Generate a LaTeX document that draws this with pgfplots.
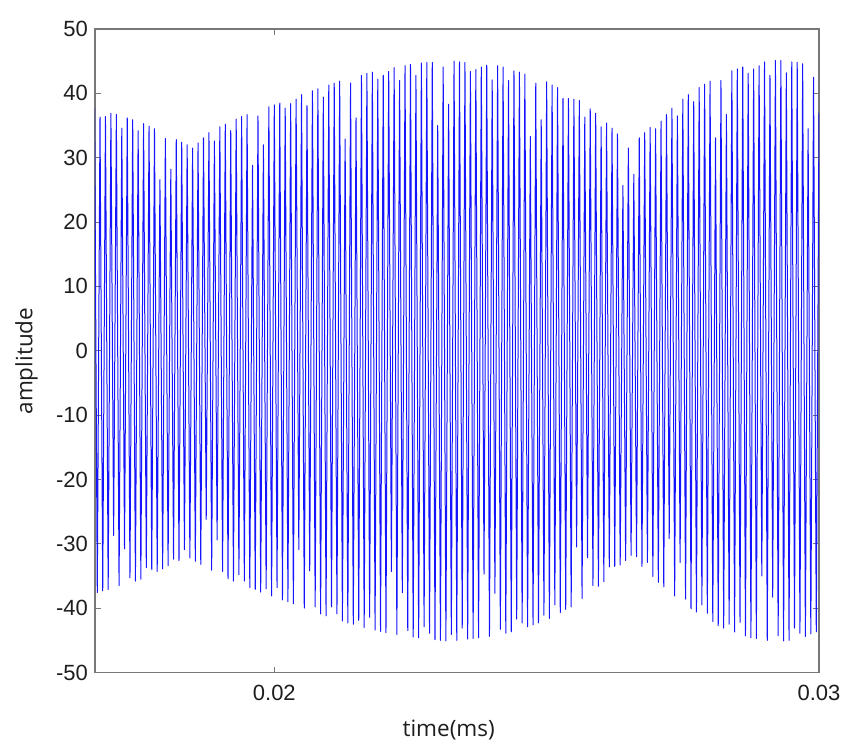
\documentclass[border=0pt]{standalone}
\usepackage{fontspec}
\setmainfont{Liberation Sans}
\newfontfamily\labfont{Open Sans}
\usepackage{pgfplots}
\pgfplotsset{compat=1.18}
\definecolor{framegray}{RGB}{120,120,120}
\definecolor{txt}{RGB}{30,30,30}
\definecolor{sig}{RGB}{20,20,255}
\begin{document}
\begin{tikzpicture}
\useasboundingbox (-95bp,-73.5bp) rectangle (753bp,672.5bp);
\begin{axis}[
  at={(0,0)}, anchor=south west,
  scale only axis, width=724bp, height=643.5bp,
  xmin=0.016708, xmax=0.03, ymin=-50, ymax=50,
  scaled x ticks=false, scaled y ticks=false,
  xtick={0.02,0.03}, xticklabels={0.02,0.03},
  ytick={-50,-40,-30,-20,-10,0,10,20,30,40,50},
  yticklabels={-50,-40,-30,-20,-10,0,10,20,30,40,50},
  tick align=inside, major tick length=6bp,
  axis line style={framegray, line width=1.2bp},
  every tick/.style={framegray, line width=1bp},
  tick label style={font=\fontsize{22bp}{26bp}\selectfont, text=txt, inner sep=0pt},
  yticklabel style={anchor=east, xshift=-7bp},
  xticklabel style={anchor=north, yshift=-12.5bp},
  xlabel={time(ms)}, ylabel={amplitude},
  label style={font=\labfont\fontsize{22.5bp}{26bp}\selectfont, text=txt, inner sep=0pt},
  xlabel style={at={(axis description cs:0.4885,-0.1002)}, anchor=base},
  ylabel style={at={(axis description cs:-0.0866,0.484)}, anchor=base, rotate=0},
  clip=true,
]
\addplot[sig, line width=1.0bp, line join=round] table {
x y
0.01670 37.7
0.01675 -37.6
0.01680 36.3
0.01685 -37.3
0.01690 36.4
0.01695 -37.1
0.01700 36.9
0.01705 -28.7
0.01710 36.7
0.01715 -36.5
0.01720 34.6
0.01725 -30.8
0.01730 36.2
0.01735 -35.3
0.01740 35.9
0.01745 -35.8
0.01750 34.2
0.01755 -35.5
0.01760 35.3
0.01765 -33.7
0.01770 34.9
0.01775 -34.0
0.01780 34.5
0.01785 -34.3
0.01790 26.6
0.01795 -33.9
0.01800 33.0
0.01805 -33.4
0.01810 28.2
0.01815 -32.4
0.01820 32.8
0.01825 -32.6
0.01830 32.4
0.01835 -30.9
0.01840 32.0
0.01845 -32.2
0.01850 31.5
0.01855 -32.7
0.01860 32.3
0.01865 -33.2
0.01870 33.1
0.01875 -26.2
0.01880 33.9
0.01885 -34.1
0.01890 32.6
0.01895 -29.4
0.01900 34.8
0.01905 -34.3
0.01910 35.2
0.01915 -35.4
0.01920 34.2
0.01925 -35.8
0.01930 36.0
0.01935 -34.8
0.01940 36.4
0.01945 -35.8
0.01950 36.7
0.01955 -36.8
0.01960 28.8
0.01965 -37.1
0.01970 36.5
0.01975 -37.5
0.01980 32.0
0.01985 -37.0
0.01990 37.9
0.01995 -38.1
0.02000 38.2
0.02005 -36.8
0.02010 38.5
0.02015 -38.7
0.02020 37.7
0.02025 -39.0
0.02030 38.4
0.02035 -39.3
0.02040 39.1
0.02045 -30.9
0.02050 39.8
0.02055 -40.0
0.02060 38.1
0.02065 -34.2
0.02070 40.4
0.02075 -39.8
0.02080 40.7
0.02085 -40.9
0.02090 39.4
0.02095 -41.2
0.02100 41.3
0.02105 -39.8
0.02110 41.6
0.02115 -40.9
0.02120 41.9
0.02125 -42.0
0.02130 32.9
0.02135 -42.3
0.02140 41.6
0.02145 -42.5
0.02150 36.2
0.02155 -41.9
0.02160 42.8
0.02165 -43.0
0.02170 43.1
0.02175 -41.4
0.02180 43.3
0.02185 -43.4
0.02190 42.2
0.02195 -43.6
0.02200 42.8
0.02205 -43.8
0.02210 43.4
0.02215 -34.3
0.02220 44.0
0.02225 -44.1
0.02230 42.0
0.02235 -37.6
0.02240 44.3
0.02245 -43.5
0.02250 44.5
0.02255 -44.5
0.02260 42.8
0.02265 -44.6
0.02270 44.7
0.02275 -42.9
0.02280 44.8
0.02285 -43.9
0.02290 44.8
0.02295 -44.9
0.02300 35.0
0.02305 -45.0
0.02310 44.1
0.02315 -45.1
0.02320 38.3
0.02325 -44.1
0.02330 45.0
0.02335 -45.0
0.02340 44.9
0.02345 -43.1
0.02350 44.8
0.02355 -44.8
0.02360 43.4
0.02365 -44.7
0.02370 43.7
0.02375 -44.6
0.02380 44.1
0.02385 -34.7
0.02390 44.4
0.02395 -44.4
0.02400 42.1
0.02405 -37.7
0.02410 44.3
0.02415 -43.3
0.02420 44.1
0.02425 -43.9
0.02430 42.0
0.02435 -43.7
0.02440 43.5
0.02445 -41.7
0.02450 43.3
0.02455 -42.3
0.02460 43.0
0.02465 -42.9
0.02470 33.3
0.02475 -42.6
0.02480 41.6
0.02485 -42.3
0.02490 35.9
0.02495 -41.1
0.02500 41.8
0.02505 -41.6
0.02510 41.3
0.02515 -39.5
0.02520 40.9
0.02525 -40.7
0.02530 39.2
0.02535 -40.2
0.02540 39.2
0.02545 -39.8
0.02550 39.1
0.02555 -30.5
0.02560 38.9
0.02565 -38.5
0.02570 36.3
0.02575 -32.2
0.02580 37.6
0.02585 -36.5
0.02590 36.9
0.02595 -36.6
0.02600 34.8
0.02605 -35.9
0.02610 35.4
0.02615 -33.6
0.02620 34.6
0.02625 -33.5
0.02630 33.7
0.02635 -33.3
0.02640 25.7
0.02645 -32.6
0.02650 31.5
0.02655 -31.8
0.02660 27.4
0.02665 -32.0
0.02670 33.1
0.02675 -33.5
0.02680 33.9
0.02685 -32.9
0.02690 34.7
0.02695 -35.1
0.02700 34.5
0.02705 -36.0
0.02710 35.7
0.02715 -36.7
0.02720 36.7
0.02725 -29.2
0.02730 37.7
0.02735 -38.1
0.02740 36.5
0.02745 -32.9
0.02750 39.1
0.02755 -38.6
0.02760 39.8
0.02765 -40.1
0.02770 38.7
0.02775 -40.6
0.02780 40.9
0.02785 -39.5
0.02790 41.4
0.02795 -40.8
0.02800 41.9
0.02805 -42.1
0.02810 33.1
0.02815 -42.7
0.02820 42.0
0.02825 -43.1
0.02830 36.7
0.02835 -42.5
0.02840 43.5
0.02845 -43.7
0.02850 43.8
0.02855 -42.2
0.02860 44.1
0.02865 -44.3
0.02870 43.1
0.02875 -44.6
0.02880 43.8
0.02885 -44.7
0.02890 44.3
0.02895 -35.0
0.02900 44.9
0.02905 -45.0
0.02910 42.8
0.02915 -38.3
0.02920 45.1
0.02925 -44.3
0.02930 45.1
0.02935 -45.1
0.02940 43.2
0.02945 -45.0
0.02950 44.9
0.02955 -43.1
0.02960 44.8
0.02965 -43.9
0.02970 44.6
0.02975 -44.4
0.02980 34.5
0.02985 -44.0
0.02990 42.5
0.02995 -43.7
0.03000 37.0
};
\end{axis}
\end{tikzpicture}
\end{document}
